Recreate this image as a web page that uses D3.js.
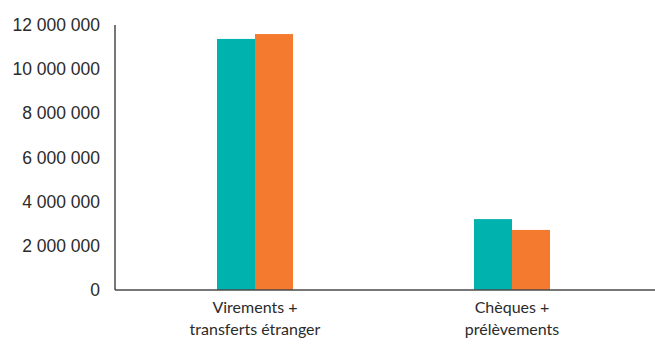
<!DOCTYPE html>
<html>
<head>
<meta charset="utf-8">
<script src="https://cdn.jsdelivr.net/npm/d3@7"></script>
<style>
  body { margin: 0; background: #fff; }
  svg { display: block; font-family: Lato, "Open Sans", sans-serif; }
</style>
</head>
<body>
<div id="chart"></div>
<script>
// chart data
const categories = [["Virements +", "transferts étranger"], ["Chèques +", "prélèvements"]];
const seriesNames = ["Série 1", "Série 2"];
const seriesA = [11370000, 3210000];
const seriesB = [11590000, 2720000];
const yTicks = [0, 2000000, 4000000, 6000000, 8000000, 10000000, 12000000];

const colors = ["#00b2ae", "#f47a30"];

const width = 655, height = 344;
const x0 = 115, yTop = 25, yBase = 290;

const svg = d3.select("#chart")
    .append("svg")
    .attr("width", width)
    .attr("height", height);

// y scale
const yScale = d3.scaleLinear()
    .domain([0, 12000000])
    .range([yBase, yTop]);

// x bands, centred on the groups
const xScale = d3.scaleBand()
    .domain(d3.range(categories.length))
    .range([126.5, 640.5]);

const xInner = d3.scaleBand()
    .domain(d3.range(seriesNames.length))
    .range([0, 76]);

const fmt = d => d3.format(",")(d).replace(/,/g, " ");

// y tick labels
const yAxis = svg.append("g")
    .attr("transform", `translate(${x0},0)`)
    .call(d3.axisLeft(yScale).tickValues(yTicks).tickFormat(fmt).tickSize(0).tickPadding(15));
yAxis.select(".domain").remove();
yAxis.selectAll("text")
    .style("font-size", "17.5px")
    .attr("fill", "#2b2b2b");

// bars
const rows = categories.map((c, i) => ({ i, values: [seriesA[i], seriesB[i]] }));
const groups = svg.selectAll(".grp")
    .data(rows)
    .enter()
    .append("g")
    .attr("transform", d => `translate(${xScale(d.i) + xScale.bandwidth() / 2 - 38},0)`);

groups.selectAll("rect")
    .data(d => d.values)
    .enter()
    .append("rect")
    .attr("x", (d, j) => xInner(j))
    .attr("width", xInner.bandwidth())
    .attr("y", d => yScale(d))
    .attr("height", d => yBase - yScale(d))
    .attr("fill", (d, j) => colors[j]);

// axis lines
svg.append("line")
    .attr("x1", x0).attr("x2", width)
    .attr("y1", yBase).attr("y2", yBase)
    .attr("stroke", "#4a4a4a").attr("stroke-width", 1.5);
svg.append("line")
    .attr("x1", x0).attr("x2", x0)
    .attr("y1", yTop).attr("y2", yBase)
    .attr("stroke", "#4a4a4a").attr("stroke-width", 1.5);

// category labels
const labels = svg.selectAll(".cat")
    .data(categories)
    .enter()
    .append("text")
    .attr("text-anchor", "middle")
    .style("font-size", "16px")
    .attr("fill", "#2b2b2b");
labels.selectAll("tspan")
    .data((d, i) => d.map(t => ({ t, i })))
    .enter()
    .append("tspan")
    .attr("x", d => xScale(d.i) + xScale.bandwidth() / 2)
    .attr("y", (d, k) => 313 + k * 22)
    .text(d => d.t);
</script>
</body>
</html>
